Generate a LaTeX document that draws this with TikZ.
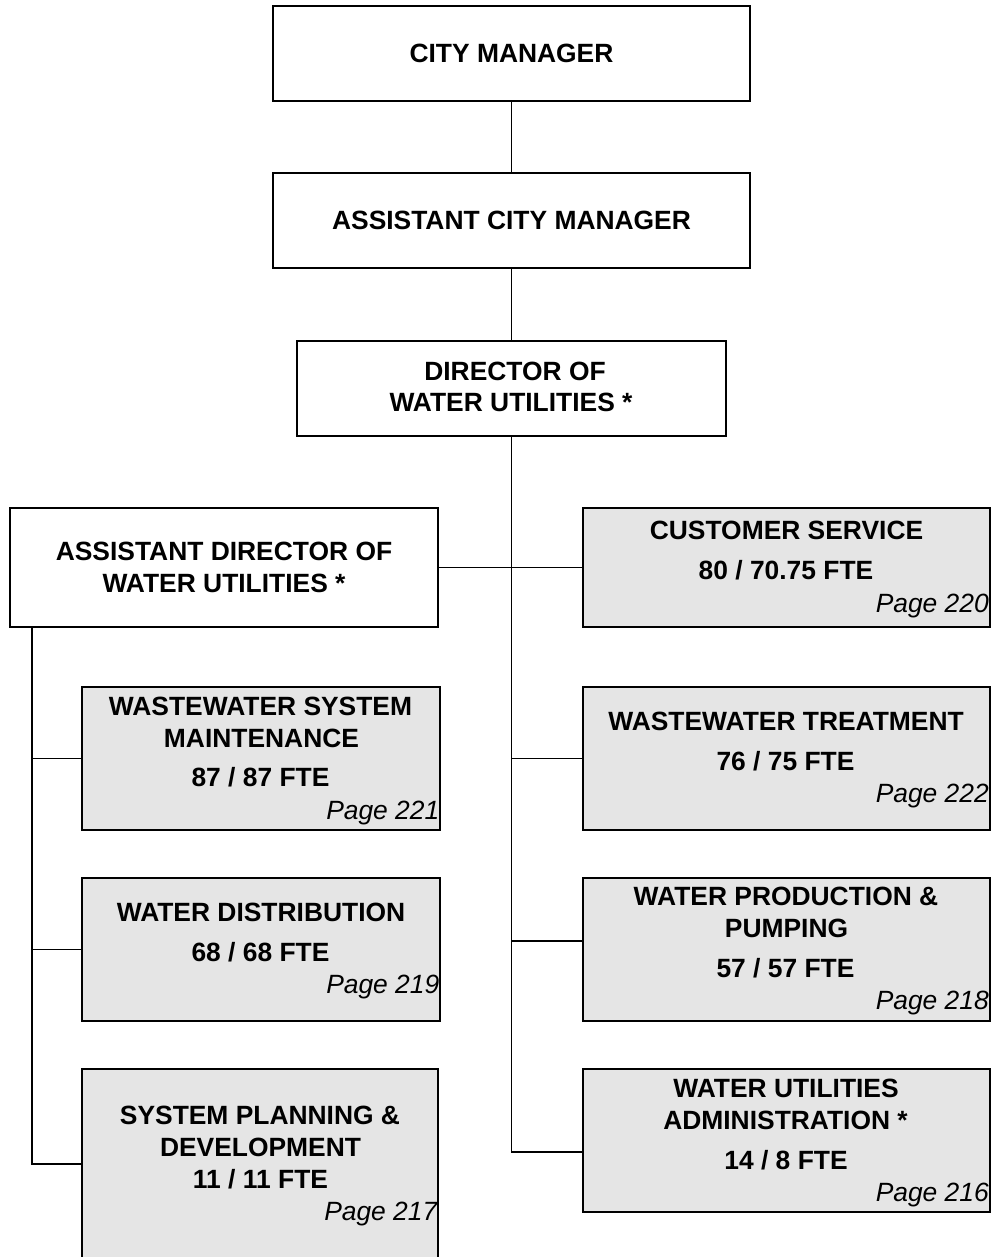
\documentclass[tikz,border=0pt]{standalone}
\usepackage{fontspec}
\setmainfont{Liberation Sans}
\begin{document}
\begin{tikzpicture}[x=1pt,y=-1pt,
  box/.style={draw=black, line width=1.8pt, fill=white, inner sep=0pt},
  gbox/.style={box, fill=black!10},
  conn/.style={draw=black, line width=1.6pt},
  lbl/.style={font=\bfseries\fontsize{26.4}{30}\selectfont, anchor=base, inner sep=0pt},
  pg/.style={font=\itshape\fontsize{26.4}{30}\selectfont, anchor=base east, inner sep=0pt}]
\useasboundingbox (0,0) rectangle (992,1257);
\fill[white] (0,0) rectangle (992,1257);
% boxes
\node[box, minimum width=477pt, minimum height=95pt] (cm) at (511.5,53.5) {};
\node[box, minimum width=477pt, minimum height=95pt] (acm) at (511.5,220.5) {};
\node[box, minimum width=429pt, minimum height=95pt] (dir) at (511.5,388.5) {};
\node[box, minimum width=428pt, minimum height=119pt] (ad) at (224,567.5) {};
\node[gbox, minimum width=407pt, minimum height=119pt] (cs) at (786.5,567.5) {};
\node[gbox, minimum width=358pt, minimum height=143pt] (wsm) at (261,758.5) {};
\node[gbox, minimum width=358pt, minimum height=143pt] (wd) at (261,949.5) {};
\node[gbox, minimum width=356pt, minimum height=231pt] (spd) at (260,1184.5) {};
\node[gbox, minimum width=407pt, minimum height=143pt] (wt) at (786.5,758.5) {};
\node[gbox, minimum width=407pt, minimum height=143pt] (wpp) at (786.5,949.5) {};
\node[gbox, minimum width=407pt, minimum height=143pt] (wua) at (786.5,1140.5) {};
% connectors
\coordinate (adL) at ([xshift=23pt]ad.south west);
\coordinate (spdB) at ([yshift=20.5pt]spd.west);
\coordinate (wppB) at ([yshift=8.5pt]wpp.west);
\coordinate (wuaB) at ([yshift=-11.5pt]wua.west);
\draw[conn] (cm.south) -- (acm.north);
\draw[conn] (acm.south) -- (dir.north);
\draw[conn] (dir.south) |- (wuaB);
\draw[conn] (ad.east) -- (cs.west);
\draw[conn] (dir.south |- wt.west) -- (wt.west);
\draw[conn] (dir.south |- wppB) -- (wppB);
\draw[conn] (adL) |- (spdB);
\draw[conn] (adL |- wsm.west) -- (wsm.west);
\draw[conn] (adL |- wd.west) -- (wd.west);
% texts
\node[lbl] (t-cm) at (511.5,62.5) {CITY MANAGER};
\node[lbl] (t-acm) at (511.5,229.5) {ASSISTANT CITY MANAGER};
\node[lbl] (t-dir1) at (515,380.5) {DIRECTOR OF};
\node[lbl] (t-dir2) at (511,411.5) {WATER UTILITIES *};
\node[lbl] (t-ad1) at (224,560) {ASSISTANT DIRECTOR OF};
\node[lbl] (t-ad2) at (224,592) {WATER UTILITIES *};
\node[lbl] (t-cs1) at (786.5,539) {CUSTOMER SERVICE};
\node[lbl] (t-cs2) at (786,579) {80 / 70.75 FTE};
\node[pg] (p-cs) at (989,612) {Page 220};
\node[lbl] (t-wsm1) at (260.5,715) {WASTEWATER SYSTEM};
\node[lbl] (t-wsm2) at (261.5,747) {MAINTENANCE};
\node[lbl] (t-wsm3) at (260.5,786) {87 / 87 FTE};
\node[pg] (p-wsm) at (439.5,819) {Page 221};
\node[lbl] (t-wd1) at (261,921.5) {WATER DISTRIBUTION};
\node[lbl] (t-wd2) at (260.5,961.5) {68 / 68 FTE};
\node[pg] (p-wd) at (439.5,993.5) {Page 219};
\node[lbl] (t-spd1) at (260,1124.5) {SYSTEM PLANNING \&};
\node[lbl] (t-spd2) at (260.5,1156.5) {DEVELOPMENT};
\node[lbl] (t-spd3) at (260.5,1188.5) {11 / 11 FTE};
\node[pg] (p-spd) at (437.5,1220.5) {Page 217};
\node[lbl] (t-wt1) at (786,730.5) {WASTEWATER TREATMENT};
\node[lbl] (t-wt2) at (785.5,770.5) {76 / 75 FTE};
\node[pg] (p-wt) at (989,802.5) {Page 222};
\node[lbl] (t-wpp1) at (786,905.5) {WATER PRODUCTION \&};
\node[lbl] (t-wpp2) at (786.5,937.5) {PUMPING};
\node[lbl] (t-wpp3) at (785.5,977.5) {57 / 57 FTE};
\node[pg] (p-wpp) at (989,1009.5) {Page 218};
\node[lbl] (t-wua1) at (786,1097.5) {WATER UTILITIES};
\node[lbl] (t-wua2) at (785.5,1129.5) {ADMINISTRATION *};
\node[lbl] (t-wua3) at (786,1169.5) {14 / 8 FTE};
\node[pg] (p-wua) at (989,1201.5) {Page 216};
\end{tikzpicture}
\end{document}
